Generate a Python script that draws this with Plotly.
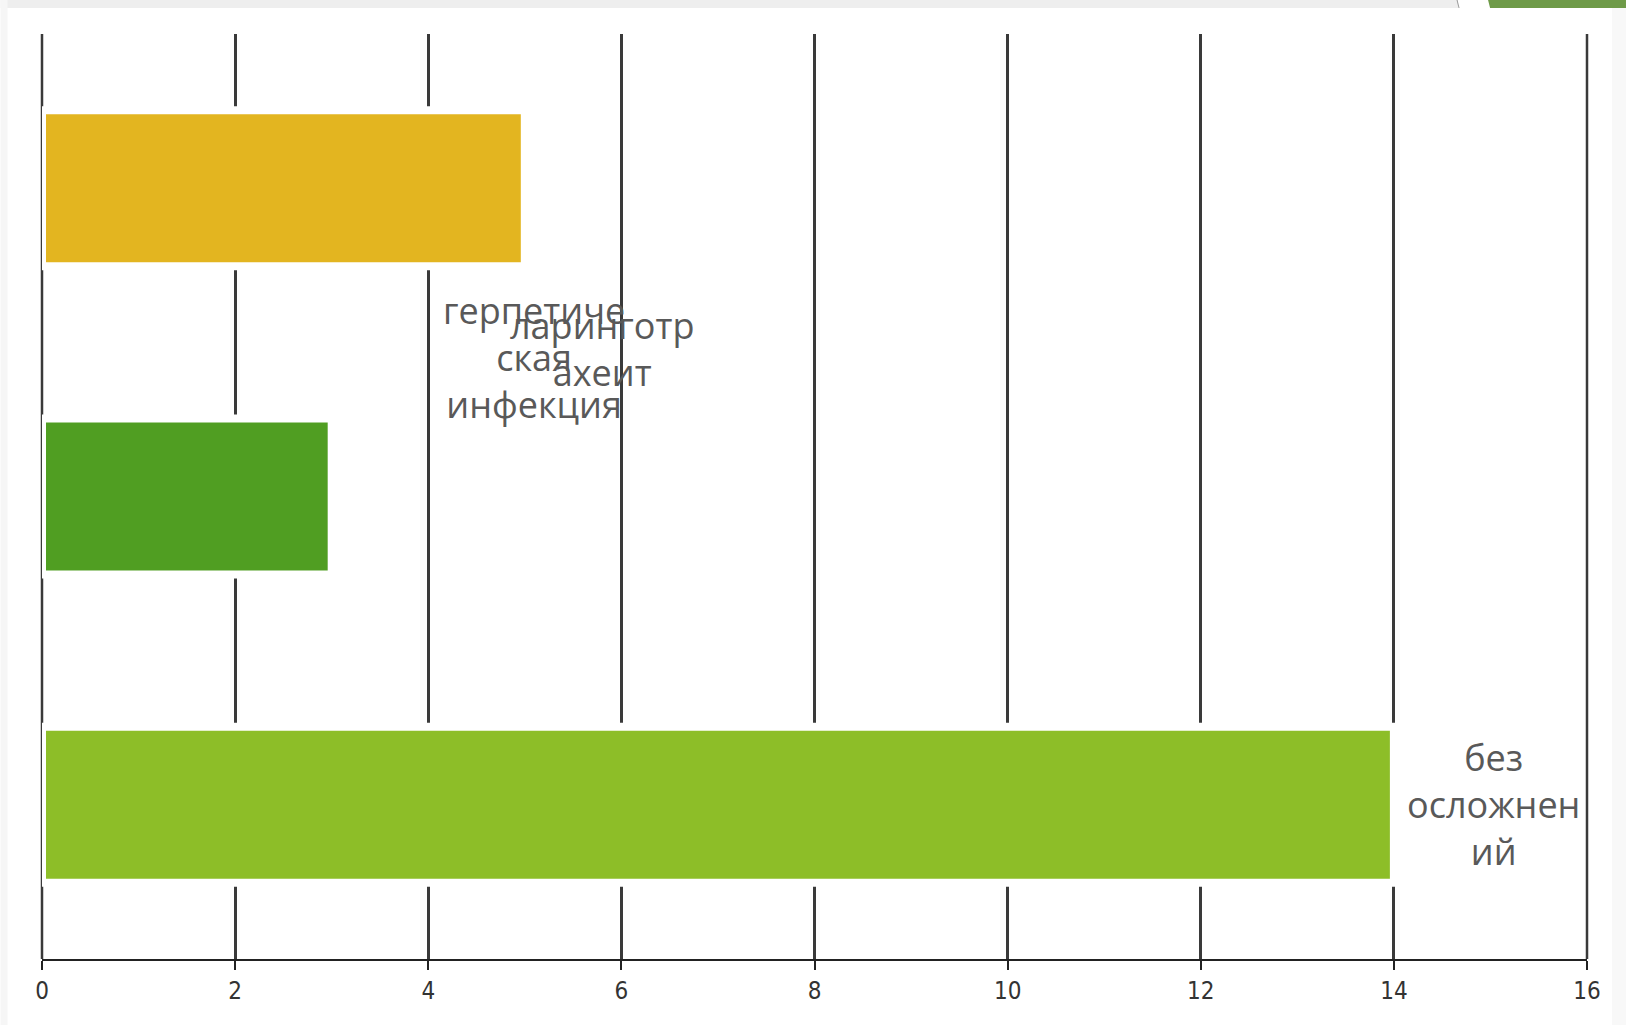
import plotly.graph_objects as go

categories = ["герпетическая инфекция", "ларинготрахеит", "без осложнений"]
values = [5, 3, 14]
bar_colors = ["#E3B520", "#509E22", "#8DBE28"]
label_texts = ["герпетиче<br>ская<br>инфекция", "ларинготр<br>ахеит", "без<br>осложнен<br>ий"]
label_x = [5.1, 5.8, 15.03]
label_y = [0.55, 0.52, 2.0]
x_ticks = [0, 2, 4, 6, 8, 10, 12, 14, 16]

W, H = 1626, 1025
ML, MR, MT, MB = 41.5, 39, 34, 66
PW, PH = W - ML - MR, H - MT - MB

def px(x):
    return (x - ML) / PW

def py(y):
    return 1 - (y - MT) / PH

fig = go.Figure()
fig.add_trace(go.Bar(
    x=values, y=list(range(len(categories))), orientation="h",
    marker=dict(color=bar_colors, line=dict(color="white", width=8)),
    width=0.506, hovertext=categories, showlegend=False,
))

for t, xx, yy in zip(label_texts, label_x, label_y):
    fig.add_annotation(x=xx, y=yy, xref="x", yref="y", text=t, showarrow=False,
                       font=dict(family="Open Sans", size=36, color="#595959"),
                       align="center")

# page decorations
shapes = [
    dict(type="rect", xref="paper", yref="paper", x0=px(0), x1=px(W), y0=py(8), y1=py(0),
         fillcolor="#eeeeee", line=dict(width=0), layer="below"),
    dict(type="rect", xref="paper", yref="paper", x0=px(0), x1=px(7), y0=py(H), y1=py(0),
         fillcolor="#f6f6f6", line=dict(width=0), layer="below"),
    dict(type="rect", xref="paper", yref="paper", x0=px(1612), x1=px(W), y0=py(H), y1=py(0),
         fillcolor="#f8f8f8", line=dict(width=0), layer="below"),
    dict(type="rect", xref="paper", yref="paper", x0=px(1458), x1=px(1490), y0=py(8), y1=py(0),
         fillcolor="#ffffff", line=dict(width=0), layer="below"),
    dict(type="path", xref="paper", yref="paper",
         path=f"M {px(1488)} {py(0)} L {px(W)} {py(0)} L {px(W)} {py(8)} L {px(1490)} {py(8)} Z",
         fillcolor="#6E9A48", line=dict(width=0), layer="below"),
    dict(type="line", xref="paper", yref="paper", x0=px(1457), x1=px(1459), y0=py(0), y1=py(8),
         line=dict(color="#999999", width=1), layer="below"),
]
# edge gridlines at the ends of the axis (plotly omits gridlines at range ends)
for xv in (0, 1):
    shapes.append(dict(type="line", xref="paper", yref="paper", x0=xv, x1=xv, y0=0, y1=1,
                       line=dict(color="#3a3a3a", width=2.5), layer="below"))

fig.update_layout(
    width=W, height=H,
    margin=dict(l=ML, r=MR, t=MT, b=MB, pad=0),
    paper_bgcolor="white", plot_bgcolor="white",
    shapes=shapes,
    bargap=0.5,
    xaxis=dict(range=[0, 16], tickvals=x_ticks, ticktext=[str(v) for v in x_ticks],
               showgrid=True, gridcolor="#3a3a3a", gridwidth=2.5,
               zeroline=False, showline=True, linecolor="#222222", linewidth=2,
               ticks="outside", ticklen=9, tickwidth=2, tickcolor="#222222",
               ticklabelstandoff=0,
               tickfont=dict(family="Liberation Sans Narrow, DejaVu Sans Condensed, Arial", size=24, color="#333333"),
               fixedrange=True),
    yaxis=dict(range=[2.5, -0.5], showticklabels=False, showgrid=False, zeroline=False,
               showline=False, ticks="", fixedrange=True),
)

fig.write_html("out.html", config={"displayModeBar": False},
               post_script="document.body.style.margin='0px';document.body.style.overflow='hidden';")
